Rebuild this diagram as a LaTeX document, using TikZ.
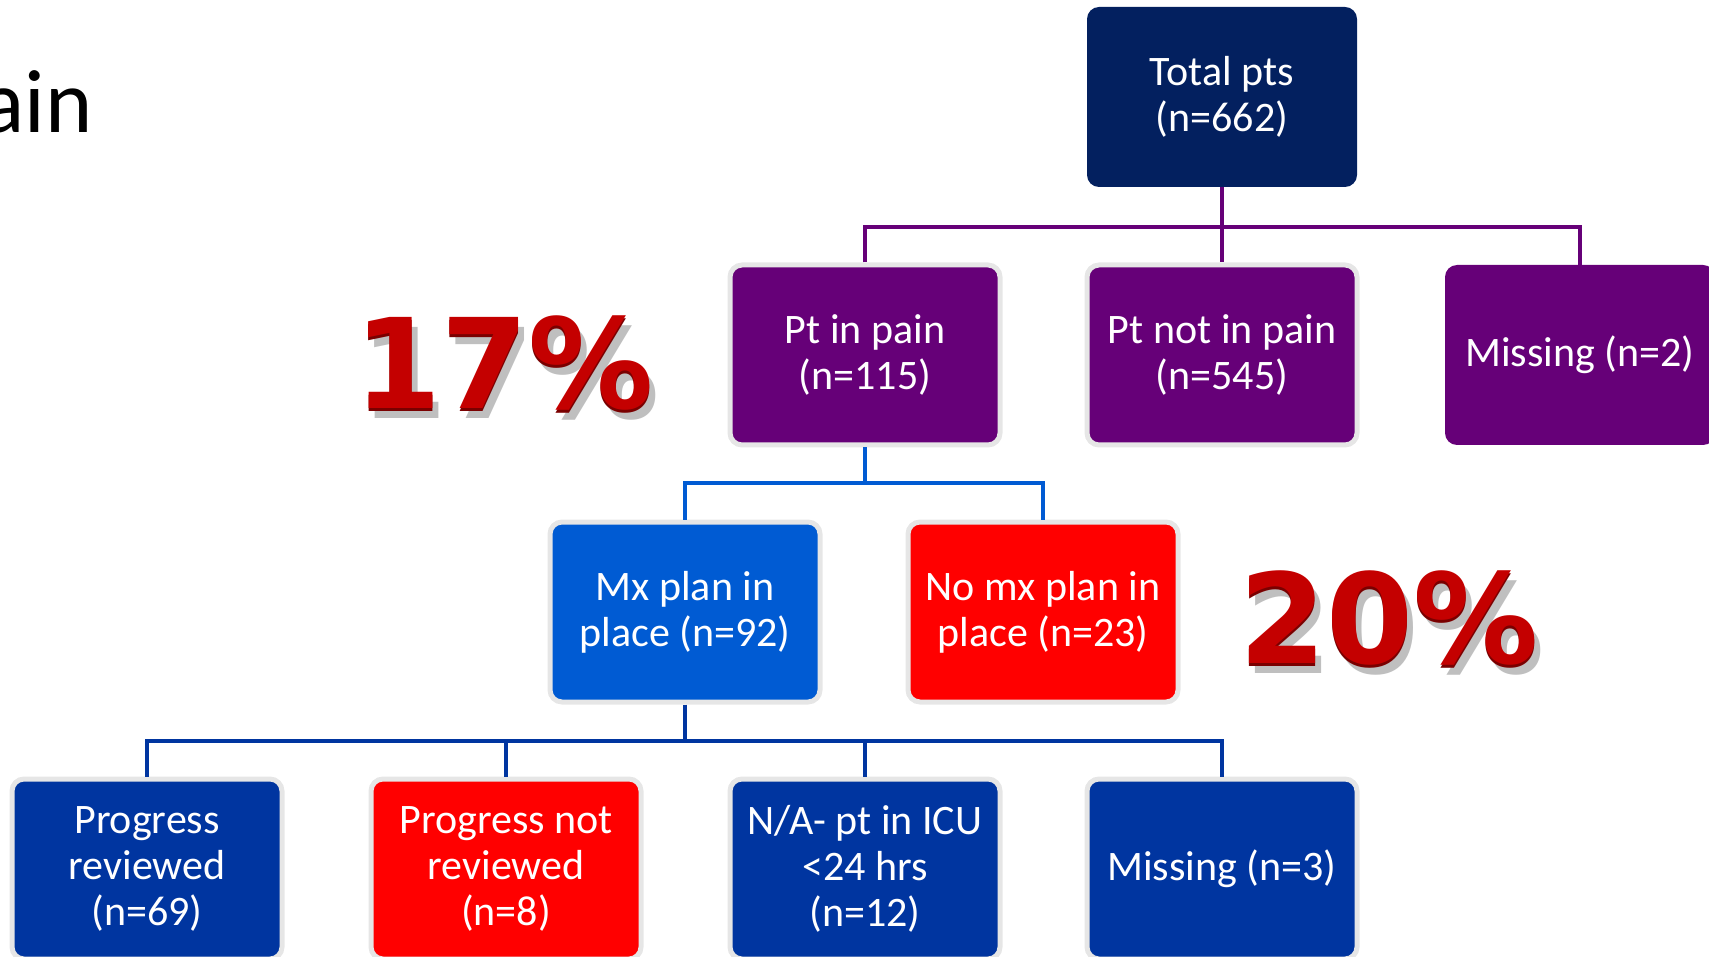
\documentclass[tikz,border=0pt]{standalone}
\usepackage{fontspec}
\setmainfont{Carlito}
\newfontfamily\pctfont{DejaVu Sans}
\usetikzlibrary{calc}
\definecolor{navy}{HTML}{03205F}
\definecolor{purp}{HTML}{660078}
\definecolor{mxblue}{HTML}{005BD3}
\definecolor{dblue}{HTML}{0035A0}
\definecolor{brred}{HTML}{FF0000}
\definecolor{gborder}{HTML}{E6E6E6}
\definecolor{pctred}{HTML}{C40000}
\definecolor{pctdark}{HTML}{7A0000}
\tikzset{
  box/.style={rounded corners=12pt, minimum width=270pt, minimum height=180pt,
    text=white, align=center, font=\fontsize{42}{46}\selectfont, inner sep=0pt},
  gbox/.style={box, draw=gborder, line width=5pt},
  pline/.style={draw=purp, line width=4.5pt},
  mline/.style={draw=mxblue, line width=4.5pt},
  bline/.style={draw=dblue, line width=4.5pt},
  pctbase/.style={inner sep=0pt, font=\pctfont\bfseries\fontsize{125}{130}\selectfont},
  pctshadow/.style={pctbase, text=black, opacity=0.25},
  pctdarktext/.style={pctbase, text=pctdark},
  pctredtext/.style={pctbase, text=pctred},
}
\newcommand\bigpct[3]{%
  \node[pctshadow] (#1-s) at ($(#2)+(6,10)$) {#3};
  \node[pctdarktext] (#1-d) at ($(#2)+(0,3)$) {#3};
  \node[pctredtext] (#1) at (#2) {#3};
}
\begin{document}
\begin{tikzpicture}[x=1pt,y=-1pt]
\useasboundingbox (0,0) rectangle (1709,957);
\clip (0,0) rectangle (1709,957);

% title fragment
\node[anchor=base east, inner sep=0pt, font=\fontsize{90}{100}\selectfont] (title) at (93,133) {ain};

% boxes
\node[box, fill=navy] (total) at (1222,97) {Total pts\\(n=662)};
\node[gbox, fill=purp] (pain) at (865,355) {Pt in pain\\(n=115)};
\node[gbox, fill=purp] (notpain) at (1222,355) {Pt not in pain\\(n=545)};
\node[box, fill=purp] (miss2) at (1580,355) {Missing (n=2)};
\node[gbox, fill=mxblue] (mx) at (685,612) {Mx plan in\\place (n=92)};
\node[gbox, fill=brred] (nomx) at (1043,612) {No mx plan in\\place (n=23)};
\node[gbox, fill=dblue] (prog) at (147,869) {Progress\\reviewed\\(n=69)};
\node[gbox, fill=brred] (nprog) at (506,869) {Progress not\\reviewed\\(n=8)};
\node[gbox, fill=dblue] (na) at (865,869) {N/A- pt in ICU\\<24 hrs\\(n=12)};
\node[gbox, fill=dblue] (miss3) at (1222,869) {Missing (n=3)};

% connectors
\coordinate (j1) at (1222,227);
\draw[pline] (total.south) -- (j1);
\draw[pline] (pain.north) |- (miss2.north |- j1) -- (miss2.north);
\draw[pline] (j1) -- (notpain.north);

\coordinate (j2) at (865,483);
\draw[mline] (pain.south) -- (j2);
\draw[mline] (mx.north) |- (nomx.north |- j2) -- (nomx.north);

\coordinate (j3) at (685,741);
\draw[bline] (mx.south) -- (j3);
\draw[bline] (prog.north) |- (miss3.north |- j3) -- (miss3.north);
\draw[bline] (nprog.north) -- (nprog.north |- j3);
\draw[bline] (na.north) -- (na.north |- j3);

% percentages
\coordinate (p17) at (504,363);
\coordinate (p20) at (1389,618);
\bigpct{pct17}{p17}{17\%}
\bigpct{pct20}{p20}{20\%}
\end{tikzpicture}
\end{document}
